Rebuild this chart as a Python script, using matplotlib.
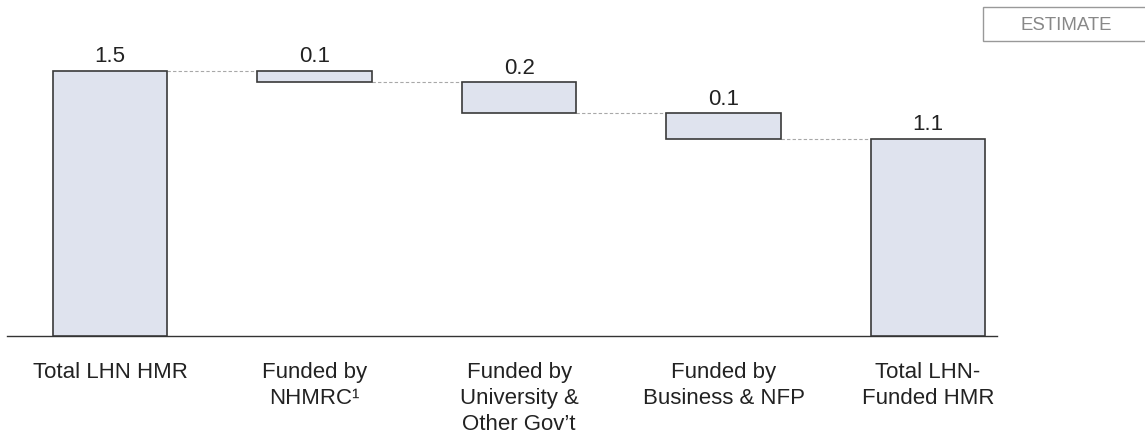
import matplotlib
matplotlib.use("Agg")
import matplotlib.pyplot as plt
from matplotlib.patches import Rectangle

categories = ["Total LHN HMR", "Funded by\nNHMRC\u00b9", "Funded by\nUniversity &\nOther Gov\u2019t",
              "Funded by\nBusiness & NFP", "Total LHN-\nFunded HMR"]
values = [1.5, -0.064, -0.175, -0.146, 1.115]
is_total = [True, False, False, False, True]
value_labels = ["1.5", "0.1", "0.2", "0.1", "1.1"]

plt.rcParams['font.family'] = ['Liberation Sans', 'DejaVu Sans']

W, H = 1145, 436
fig = plt.figure(figsize=(W / 100, H / 100), dpi=100)
ax = fig.add_axes([7 / W, (H - 336) / H, 990 / W, 296 / H])

fill = "#dfe3ee"
edge = "#3a3a3a"
txt = "#222222"

bottoms, heights = [], []
level = 0.0
for v, t in zip(values, is_total):
    if t:
        bottoms.append(0.0)
        heights.append(v)
        level = v
    else:
        bottoms.append(level + v)
        heights.append(-v)
        level = level + v

x = list(range(len(categories)))
width = 0.56
ax.bar(x, heights, bottom=bottoms, width=width, color=fill, edgecolor=edge, linewidth=1.2, zorder=3)

# connectors
for i in range(len(x) - 1):
    y = bottoms[i] + heights[i] if is_total[i] else bottoms[i]
    ax.plot([x[i] + width / 2, x[i + 1] - width / 2], [y, y], linestyle=(0, (3, 2)),
            color="#a8a8a8", linewidth=0.8, zorder=2)

for xi, b, h, lab in zip(x, bottoms, heights, value_labels):
    ax.text(xi, b + h + 0.048, lab, ha="center", va="baseline", fontsize=16, color=txt)

ax.set_xlim(-0.504, 4.337)
ax.set_ylim(0, 1.675)
ax.set_xticks(x)
ax.set_xticklabels(categories, fontsize=16, color=txt, va="top", linespacing=1.3)
ax.tick_params(axis="x", length=0, pad=19)
ax.set_yticks([])
for s in ["top", "right", "left"]:
    ax.spines[s].set_visible(False)
ax.spines["bottom"].set_color("#333333")
ax.spines["bottom"].set_linewidth(1.0)

# ESTIMATE box
fig.patches.append(Rectangle((983 / W, (H - 41.5) / H), 180 / W, 34 / H, transform=fig.transFigure,
                             facecolor="white", edgecolor="#999999", linewidth=1.0))
fig.text(1066 / W, 1 - 25 / H, "ESTIMATE", ha="center", va="center", fontsize=13.4, color="#888888")

fig.savefig("out.png", dpi=100)
